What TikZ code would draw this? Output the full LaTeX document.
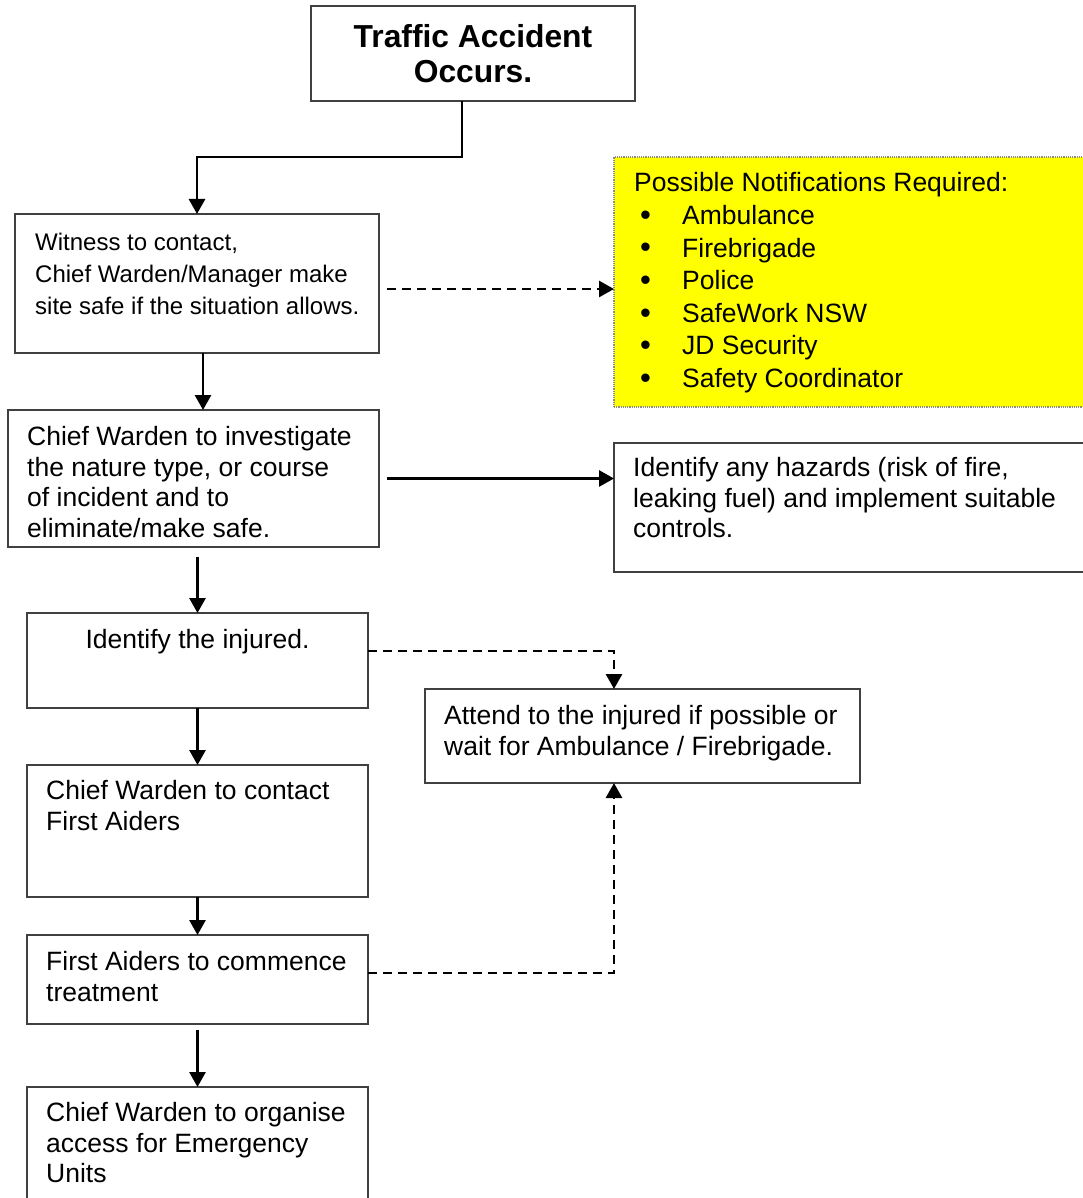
\documentclass[tikz,border=0pt]{standalone}
\usepackage{fontspec}
\setmainfont{Liberation Sans}
\usetikzlibrary{arrows.meta,calc}

\definecolor{notefill}{RGB}{255,255,0}

\tikzset{
  box/.style={draw=black!75, line width=1.2pt, anchor=north west, inner sep=0pt, outer sep=0pt},
  notebox/.style={box, draw=black!45, densely dotted, fill=notefill},
  txt/.style={anchor=base west, inner sep=0pt, align=left, font=\fontsize{26.5}{30.7}\selectfont},
  smalltxt/.style={txt, font=\fontsize{24}{32}\selectfont},
  titletxt/.style={inner sep=0pt, align=center, font=\fontsize{31.8}{35}\selectfont\bfseries},
  arrow/.style={line width=2.8pt, -{Triangle[length=15pt,width=16pt]}},
  dasharrow/.style={arrow, dash pattern=on 9pt off 6pt}
}

\begin{document}
\begin{tikzpicture}[x=1pt,y=-1pt]
  \useasboundingbox (0,0) rectangle (1083,1198);
  \fill[white] (0,0) rectangle (1083,1198);

  % main column (base of a text node = its last line)
  \node[box, minimum width=324, minimum height=95] (accident) at (311,6) {};
  \node[titletxt] (accidenttxt) at (accident.center) {Traffic Accident\\Occurs.};

  \node[box, minimum width=364, minimum height=139] (witness) at (15,214) {};
  \node[smalltxt] (witnesstxt) at ([shift={(20,100.6)}]witness.north west)
    {Witness to contact,\\Chief Warden/Manager make\\site safe if the situation allows.};

  \node[box, minimum width=371, minimum height=137] (investigate) at (8,410) {};
  \node[txt] (investigatetxt) at ([shift={(19,127.6)}]investigate.north west)
    {Chief Warden to investigate\\the nature type, or course\\of incident and to\\eliminate/make safe.};

  \node[box, minimum width=341, minimum height=95] (injured) at (27,613) {};
  \node[txt, anchor=base] (injuredtxt) at ([shift={(0,35.5)}]injured.north) {Identify the injured.};

  \node[box, minimum width=341, minimum height=132] (contact) at (27,765) {};
  \node[txt] (contacttxt) at ([shift={(19,65.2)}]contact.north west)
    {Chief Warden to contact\\First Aiders};

  \node[box, minimum width=341, minimum height=89] (aid) at (27,935) {};
  \node[txt] (aidtxt) at ([shift={(19,66.2)}]aid.north west)
    {First Aiders to commence\\treatment};

  \node[box, minimum width=341, minimum height=116] (final) at (27,1087) {};
  \node[txt] (finaltxt) at ([shift={(19,95.9)}]final.north west)
    {Chief Warden to organise\\access for Emergency\\Units};

  % side boxes
  \node[notebox, minimum width=471, minimum height=250] (notify) at (614,157) {};
  \node[txt] (notifytxt) at ([shift={(20,34.5)}]notify.north west) {Possible Notifications Required:};
  \foreach \entry [count=\i] in {Ambulance, Firebrigade, Police, SafeWork NSW, JD Security, Safety Coordinator}
  {
    \node[txt, font=\fontsize{31}{31}\selectfont] (dot\i) at ([shift={(26,36+32.5*\i)}]notify.north west) {•};
    \node[txt] (entry\i) at ([shift={(68,35+32.5*\i)}]notify.north west) {\entry};
  }

  \node[box, minimum width=471, minimum height=129] (hazards) at (614,443) {};
  \node[txt] (hazardstxt) at ([shift={(19,94.9)}]hazards.north west)
    {Identify any hazards (risk of fire,\\leaking fuel) and implement suitable\\controls.};

  \node[box, minimum width=435, minimum height=94] (attend) at (425,689) {};
  \node[txt] (attendtxt) at ([shift={(19,66.2)}]attend.north west)
    {Attend to the injured if possible or\\wait for Ambulance / Firebrigade.};

  % connectors
  \draw[arrow] ([xshift=-11pt]accident.south) -- ++(0,56) -| (witness.north);
  \draw[arrow] ([xshift=6pt]witness.south) -- ([xshift=6pt]witness.south |- investigate.north);
  \draw[dasharrow] ([shift={(8,5.5)}]witness.east) -- ($(witness.east -| notify.west)+(0,5.5)$);
  \draw[arrow] ([xshift=8pt]investigate.east) -- (investigate.east -| hazards.west);
  \draw[arrow] ($(investigate.south -| injured.north)+(0,10)$) -- (injured.north);
  \draw[dasharrow] ([shift={(0,-9.5)}]injured.east) -| ([xshift=-28.5pt]attend.north);
  \draw[arrow] (injured.south) -- (contact.north);
  \draw[arrow] (contact.south) -- (aid.north);
  \draw[dasharrow] ([shift={(0,-6.5)}]aid.east) -| ([xshift=-28.5pt]attend.south);
  \draw[arrow] ($(aid.south)+(0,6)$) -- (final.north);
\end{tikzpicture}
\end{document}
